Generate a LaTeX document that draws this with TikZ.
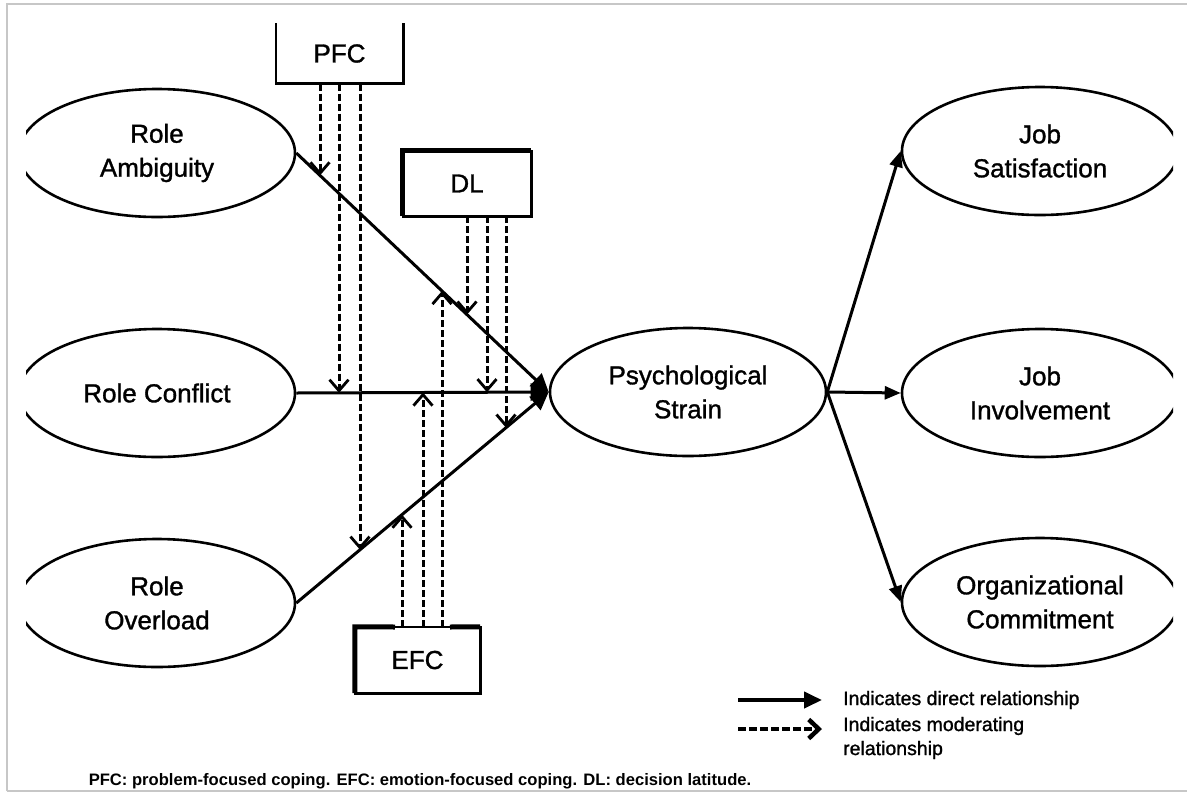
\documentclass[tikz,border=0pt]{standalone}
\usepackage{fontspec}
\setmainfont{Liberation Sans}
\newfontfamily\heavyfont[FakeBold=1.2]{Liberation Sans}
\usetikzlibrary{arrows.meta,shapes.geometric,intersections}
\newcommand\modline[4]{% #1 x, #2 start anchor, #3 target path, #4 name
  \path[name path=vv#4] (#1,0) -- (#1,796);
  \path[name intersections={of=#3 and vv#4, by=#4}];
  \draw[moder] (#2 -| #4) -- (#4);
}
\begin{document}
\begin{tikzpicture}[x=1pt,y=-1pt,
  var/.style={ellipse,draw,line width=2.6pt,minimum width=276pt,minimum height=128pt,inner sep=0pt,align=center,font=\heavyfont\fontsize{26}{34}\selectfont},
  box/.style={minimum width=127pt,minimum height=60pt,inner sep=0pt,font=\heavyfont\fontsize{26}{30}\selectfont},
  direct/.style={line width=3pt,-{Triangle[length=16pt,width=13pt]}},
  converge/.style={line width=3pt,-{Triangle[length=18pt,width=17pt]}},
  moder/.style={line width=3pt,dash pattern=on 7pt off 3pt,-{Straight Barb[length=11pt,width=19pt,line width=2.8pt]}},
  frame/.style={draw=black!22,line width=1.5pt},
  legtext/.style={anchor=west,inner sep=0pt,font=\heavyfont\fontsize{19.5}{22}\selectfont},
]
\useasboundingbox (0,0) rectangle (1187,796);
\fill[white] (0,0) rectangle (1187,796);
\draw[frame] (7,791) -- (7,4) -- (1187,4);
\draw[frame] (7,791) -- (1187,791);

\begin{scope}
  \clip (26,0) rectangle (1173,796);
  \node[var] (ra) at (157,153) {Role\\Ambiguity};
  \node[var] (rc) at (157,393) {Role Conflict};
  \node[var] (ro) at (157,603) {Role\\Overload};
  \node[var] (ps) at (688,392) {Psychological\\Strain};
  \node[var] (js) at (1040,151) {Job\\Satisfaction};
  \node[var] (ji) at (1040,393) {Job\\Involvement};
  \node[var] (oc) at (1040,602) {Organizational\\Commitment};
\end{scope}

% moderator boxes
\node[box] (pfc) at (339.5,53.5) {PFC};
\draw[line width=2.6pt] (pfc.north west) -- (pfc.south west) -- (pfc.south east) -- (pfc.north east);
\node[box,minimum width=128pt,minimum height=65pt] (dl) at (467,183.5) {DL};
\draw[line width=2.6pt] (dl.north west) rectangle (dl.south east);
\draw[line width=5pt] (dl.south west) -- (dl.north west) -- (dl.north east);
\node[box,minimum width=125pt,minimum height=66pt] (efc) at (417.5,660) {EFC};
\draw[line width=2.6pt] (efc.north west) rectangle (efc.south east);
\draw[line width=5pt] (efc.south west) -- (efc.north west) -- (395,627);
\draw[line width=5pt] (450,627) -- (efc.north east);

% direct relations
\path[name path=lra] (ra.east) -- (ps.west);
\path[name path=lrc] (rc.east) -- (ps.west);
\path[name path=lro] (ro.east) -- (ps.west);
\draw[converge] (ra.east) -- (ps.west);
\draw[converge] (rc.east) -- (ps.west);
\draw[converge] (ro.east) -- (ps.west);
\draw[direct] (ps.east) -- (js.west);
\draw[direct] (ps.east) -- (ji.west);
\draw[direct] (ps.east) -- (oc.west);

% moderating relations
\modline{320}{pfc.south}{lra}{p1}
\modline{339}{pfc.south}{lrc}{p2}
\modline{360}{pfc.south}{lro}{p3}
\modline{467}{dl.south}{lra}{d1}
\modline{487}{dl.south}{lrc}{d2}
\modline{506}{dl.south}{lro}{d3}
\modline{402}{efc.north}{lro}{e1}
\modline{423}{efc.north}{lrc}{e2}
\modline{442}{efc.north}{lra}{e3}

% legend
\coordinate (la1) at (738,700);
\coordinate (lb1) at (822,700);
\coordinate (la2) at (738,729);
\coordinate (lb2) at (822,729);
\draw[line width=4pt,-{Triangle[length=18pt,width=16pt]}] (la1) -- (lb1);
\draw[line width=4.5pt,dash pattern=on 8pt off 3pt,-{Straight Barb[length=10pt,width=19pt,line width=4.5pt]}] (la2) -- (lb2);
\node[legtext] (t1) at (843,700) {Indicates direct relationship};
\node[legtext] (t2) at (843,726) {Indicates moderating};
\node[legtext] (t3) at (843,750) {relationship};

% caption
\node[inner sep=0pt,font=\bfseries\fontsize{16.6}{19}\selectfont] (cap) at (420,781)
  {PFC: problem-focused coping. EFC: emotion-focused coping. DL: decision latitude.};
\end{tikzpicture}
\end{document}
